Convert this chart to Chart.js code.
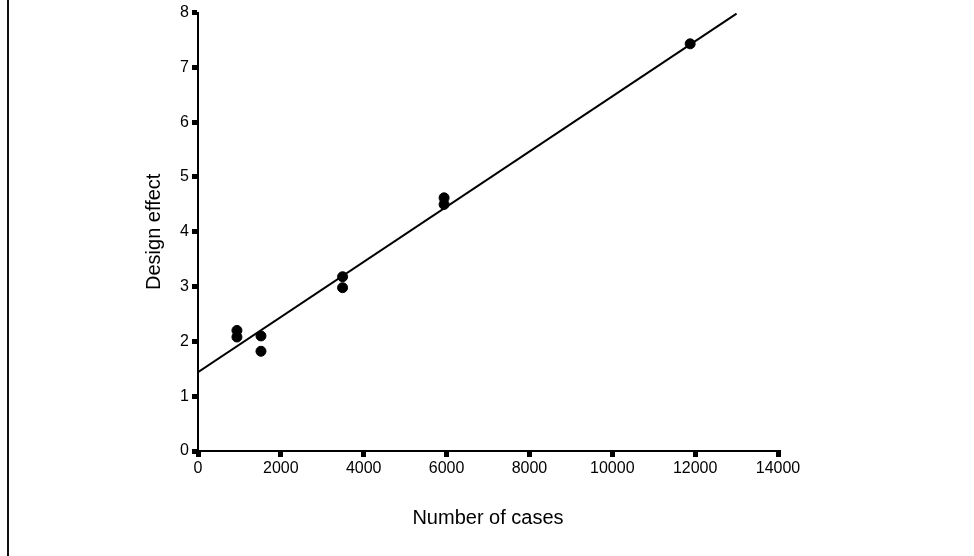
<!DOCTYPE html>
<html lang="en">
<head>
  <meta charset="UTF-8" />
  <title>Design effect vs number of cases</title>
  <script src="https://cdn.jsdelivr.net/npm/chart.js"></script>
  <style>
    body {
      margin: 0;
      background: #fff;
    }
    .wrap {
      position: relative;
      width: 974px;
      height: 556px;
    }
    .edge {
      position: absolute;
      left: 7px;
      top: 0;
      width: 2px;
      height: 556px;
      background: #111;
    }
  </style>
</head>
<body>
  <div class="wrap">
    <div class="edge"></div>
    <canvas id="chart" width="974" height="556"></canvas>
  </div>

  <script>
    // observed studies
    const cases = [940, 940, 1520, 1520, 3490, 3490, 5940, 5940, 11880];
    const designEffect = [2.2, 2.08, 2.1, 1.82, 3.18, 2.98, 4.62, 4.5, 7.43];

    // fitted regression line
    const fitCases = [0, 13000];
    const fitEffect = [1.44, 7.98];

    const xTicks = [0, 2000, 4000, 6000, 8000, 10000, 12000, 14000];
    const yTicks = [0, 1, 2, 3, 4, 5, 6, 7, 8];

    const font = 'Liberation Sans, Arial, sans-serif';

    new Chart(document.getElementById('chart'), {
      type: 'scatter',
      data: {
        datasets: [
          {
            data: cases.map((c, i) => ({ x: c, y: designEffect[i] })),
            backgroundColor: '#000',
            borderColor: '#000',
            pointRadius: 5,
            pointHoverRadius: 5
          },
          {
            type: 'line',
            data: fitCases.map((c, i) => ({ x: c, y: fitEffect[i] })),
            borderColor: '#000',
            borderWidth: 2,
            pointRadius: 0,
            fill: false
          }
        ]
      },
      options: {
        responsive: false,
        animation: false,
        layout: { padding: { top: 12, right: 196, left: 0, bottom: 0 } },
        plugins: {
          legend: { display: false },
          tooltip: { enabled: false }
        },
        scales: {
          x: {
            type: 'linear',
            min: 0,
            max: 14000,
            afterBuildTicks: s => { s.ticks = xTicks.map(v => ({ value: v })); },
            afterFit: s => { s.height = 105; },
            border: { color: '#000', width: 2 },
            grid: { drawOnChartArea: false, color: '#000', lineWidth: 5, tickLength: 6 },
            ticks: {
              color: '#000',
              font: { family: font, size: 16 },
              padding: 2,
              maxRotation: 0,
              callback: v => String(v)
            },
            title: {
              display: true,
              text: 'Number of cases',
              color: '#000',
              font: { family: font, size: 20 },
              padding: { top: 0, bottom: 26 }
            }
          },
          y: {
            min: 0,
            max: 8,
            afterBuildTicks: s => { s.ticks = yTicks.map(v => ({ value: v })); },
            afterFit: s => { s.width = 198; },
            border: { color: '#000', width: 2 },
            grid: { drawOnChartArea: false, color: '#000', lineWidth: 5, tickLength: 6 },
            ticks: {
              color: '#000',
              font: { family: font, size: 16 },
              padding: 3,
              callback: v => String(v)
            },
            title: {
              display: true,
              text: 'Design effect',
              color: '#000',
              font: { family: font, size: 20 },
              padding: { top: 142, bottom: 0 }
            }
          }
        }
      }
    });
  </script>
</body>
</html>
